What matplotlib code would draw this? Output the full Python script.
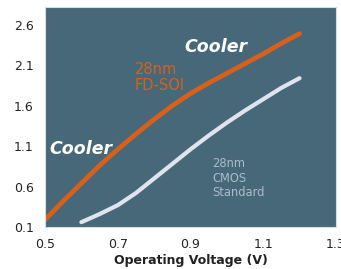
import matplotlib
matplotlib.use("Agg")
import matplotlib.pyplot as plt

# FD-SOI curve
fdsoi_v = [0.5, 0.55, 0.6, 0.65, 0.7, 0.75, 0.8, 0.85, 0.9, 0.95, 1.0, 1.05, 1.1, 1.15, 1.2]
fdsoi_y = [0.19, 0.42, 0.64, 0.86, 1.06, 1.25, 1.43, 1.60, 1.75, 1.88, 2.00, 2.12, 2.24, 2.37, 2.49]

# bulk CMOS curve
cmos_v = [0.6, 0.65, 0.7, 0.75, 0.8, 0.85, 0.9, 0.95, 1.0, 1.05, 1.1, 1.15, 1.2]
cmos_y = [0.16, 0.26, 0.37, 0.52, 0.70, 0.88, 1.06, 1.23, 1.39, 1.54, 1.68, 1.82, 1.94]

xticks = [0.5, 0.7, 0.9, 1.1, 1.3]
yticks = [0.1, 0.6, 1.1, 1.6, 2.1, 2.6]

fig = plt.figure(figsize=(3.41, 2.69), dpi=100)
ax = fig.add_axes([0.132, 0.156, 0.853, 0.818])
ax.set_facecolor("#476878")

ax.plot(fdsoi_v, fdsoi_y, color="#d9601a", lw=3.4, solid_capstyle="round")
ax.plot(cmos_v, cmos_y, color="#dfe4ee", lw=3.0, solid_capstyle="round")

ax.set_xlim(0.5, 1.3)
ax.set_ylim(0.1, 2.82)
ax.set_xticks(xticks)
ax.set_yticks(yticks)
ax.set_xticklabels([f"{t:.1f}" for t in xticks])
ax.set_yticklabels([f"{t:.1f}" for t in yticks])
ax.tick_params(length=0, labelsize=9, colors="#222222", pad=8)
for s in ax.spines.values():
    s.set_color("#d8dde2")
    s.set_linewidth(0.8)

ax.set_xlabel("Operating Voltage (V)", fontsize=9, fontweight="bold", color="#222222", labelpad=2)

# annotations
ax.text(0.97, 2.32, "Cooler", color="white", fontsize=12.5, fontweight="bold",
        style="italic", ha="center", va="center")
ax.text(0.512, 1.06, "Cooler", color="white", fontsize=12.5, fontweight="bold",
        style="italic", ha="left", va="center")
ax.text(0.747, 2.14, "28nm\nFD-SOI", color="#d9601a", fontsize=10.5,
        ha="left", va="top", linespacing=1.1)
ax.text(0.959, 0.96, "28nm\nCMOS\nStandard", color="#a9bccd", fontsize=8.3,
        ha="left", va="top", linespacing=1.15)

fig.savefig("out.png", dpi=100, facecolor="white")
